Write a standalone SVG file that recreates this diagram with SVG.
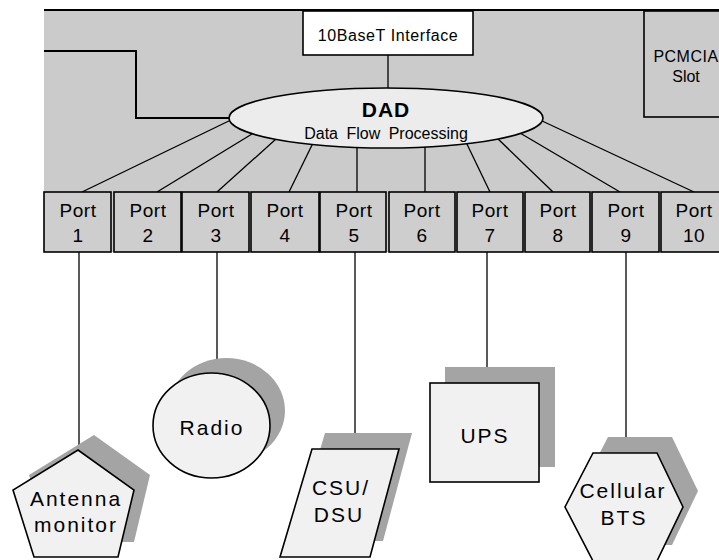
<svg xmlns="http://www.w3.org/2000/svg" width="719" height="560" viewBox="0 0 719 560">
<style>
.board{fill:#cbcbcb;stroke:none}
.edge{fill:none;stroke:#000;stroke-width:2}
.box{fill:#cecece;stroke:#000;stroke-width:1.6}
.wbox{fill:#ffffff;stroke:#000;stroke-width:1.6}
.ell{fill:#ececec;stroke:#000;stroke-width:1.6}
.shape{fill:#f1f1f1;stroke:#000;stroke-width:1.6}
.shadow{fill:#a4a4a4;stroke:none}
.wire{fill:none;stroke:#000;stroke-width:1.3}
text{font-family:"Liberation Sans",Arial,sans-serif;fill:#000;text-anchor:middle}
.port{font-size:19px;letter-spacing:0.5px}
.lbl{font-size:21px;letter-spacing:2px}
</style>
<g id="board">
  <rect class="board" x="44" y="10" width="675" height="242"/>
  <line class="edge" x1="44" y1="10" x2="719" y2="10"/>
</g>
<g id="iface">
  <rect class="wbox" x="303" y="11" width="170" height="44"/>
  <text x="388" y="41" style="font-size:16px;letter-spacing:0.6px">10BaseT Interface</text>
</g>
<g id="pcmcia">
  <rect class="box" x="644" y="11" width="80" height="106" style="fill:#cbcbcb"/>
  <text x="686" y="62" style="font-size:16px;letter-spacing:0.5px">PCMCIA</text>
  <text x="686" y="82" style="font-size:16px">Slot</text>
</g>
<g id="connectors">
  <polyline class="edge" points="44,51 136,51 136,118 232,118"/>
  <line class="wire" x1="388" y1="55" x2="388" y2="95"/>
  <line class="wire" x1="235" y1="118" x2="82" y2="192"/>
  <line class="wire" x1="252" y1="134" x2="157" y2="192"/>
  <line class="wire" x1="276" y1="139" x2="217" y2="192"/>
  <line class="wire" x1="313" y1="143" x2="289" y2="192"/>
  <line class="wire" x1="357" y1="140" x2="357" y2="192"/>
  <line class="wire" x1="425" y1="140" x2="425" y2="192"/>
  <line class="wire" x1="465" y1="140" x2="490" y2="192"/>
  <line class="wire" x1="496" y1="137" x2="553" y2="192"/>
  <line class="wire" x1="520" y1="133" x2="620" y2="192"/>
  <line class="wire" x1="540" y1="120" x2="694" y2="192"/>
  <line class="wire" x1="79" y1="252" x2="79" y2="450"/>
  <line class="wire" x1="217" y1="252" x2="217" y2="373"/>
  <line class="wire" x1="355" y1="252" x2="355" y2="449"/>
  <line class="wire" x1="487" y1="252" x2="487" y2="383"/>
  <line class="wire" x1="626" y1="252" x2="626" y2="453"/>
</g>
<g id="dad">
  <ellipse class="ell" cx="386" cy="118" rx="157" ry="30"/>
  <text x="386" y="117" style="font-size:21px;font-weight:bold;letter-spacing:1px">DAD</text>
  <text x="386" y="139" style="font-size:16px;word-spacing:4px">Data Flow Processing</text>
</g>
<g id="port1"><rect class="box" x="44" y="192" width="67" height="60"/><text class="port" x="78" y="217">Port</text><text class="port" x="78" y="242">1</text></g>
<g id="port2"><rect class="box" x="114" y="192" width="67" height="60"/><text class="port" x="148" y="217">Port</text><text class="port" x="148" y="242">2</text></g>
<g id="port3"><rect class="box" x="182" y="192" width="67" height="60"/><text class="port" x="216" y="217">Port</text><text class="port" x="216" y="242">3</text></g>
<g id="port4"><rect class="box" x="251" y="192" width="68" height="60"/><text class="port" x="285" y="217">Port</text><text class="port" x="285" y="242">4</text></g>
<g id="port5"><rect class="box" x="320" y="192" width="66" height="60"/><text class="port" x="354" y="217">Port</text><text class="port" x="354" y="242">5</text></g>
<g id="port6"><rect class="box" x="389" y="192" width="66" height="60"/><text class="port" x="422" y="217">Port</text><text class="port" x="422" y="242">6</text></g>
<g id="port7"><rect class="box" x="457" y="192" width="66" height="60"/><text class="port" x="490" y="217">Port</text><text class="port" x="490" y="242">7</text></g>
<g id="port8"><rect class="box" x="525" y="192" width="65" height="60"/><text class="port" x="558" y="217">Port</text><text class="port" x="558" y="242">8</text></g>
<g id="port9"><rect class="box" x="592" y="192" width="67" height="60"/><text class="port" x="626" y="217">Port</text><text class="port" x="626" y="242">9</text></g>
<g id="port10"><rect class="box" x="661" y="192" width="70" height="60"/><text class="port" x="694" y="217">Port</text><text class="port" x="694" y="242">10</text></g>
<g id="antenna">
  <polygon class="shadow" points="94,435 150,475 134,542 50,542 29,475"/>
  <polygon class="shape" points="78,450 134,490 118,557 34,557 13,490"/>
  <text class="lbl" x="76" y="506">Antenna</text>
  <text class="lbl" x="76" y="532">monitor</text>
</g>
<g id="radio">
  <ellipse class="shadow" cx="226.5" cy="410.5" rx="58.5" ry="52.5"/>
  <ellipse class="shape" cx="211.5" cy="425.5" rx="58.5" ry="52.5"/>
  <text class="lbl" x="212" y="435">Radio</text>
</g>
<g id="csu">
  <polygon class="shadow" points="325,433 412,433 383,541 293,541"/>
  <polygon class="shape" points="312,449 399,449 370,557 280,557"/>
  <text class="lbl" x="341" y="495">CSU/</text>
  <text class="lbl" x="339" y="522">DSU</text>
</g>
<g id="ups">
  <rect class="shadow" x="445" y="367" width="110" height="100"/>
  <rect class="shape" x="430" y="383" width="109" height="99"/>
  <text class="lbl" x="485" y="443">UPS</text>
</g>
<g id="cellular">
  <polygon class="shadow" points="608,437 672,437 698,491 672,545 608,545 580,491"/>
  <polygon class="shape" points="593,453 657,453 683,507 657,561 593,561 565,507"/>
  <text class="lbl" x="623" y="498">Cellular</text>
  <text class="lbl" x="624" y="525">BTS</text>
</g>
</svg>
